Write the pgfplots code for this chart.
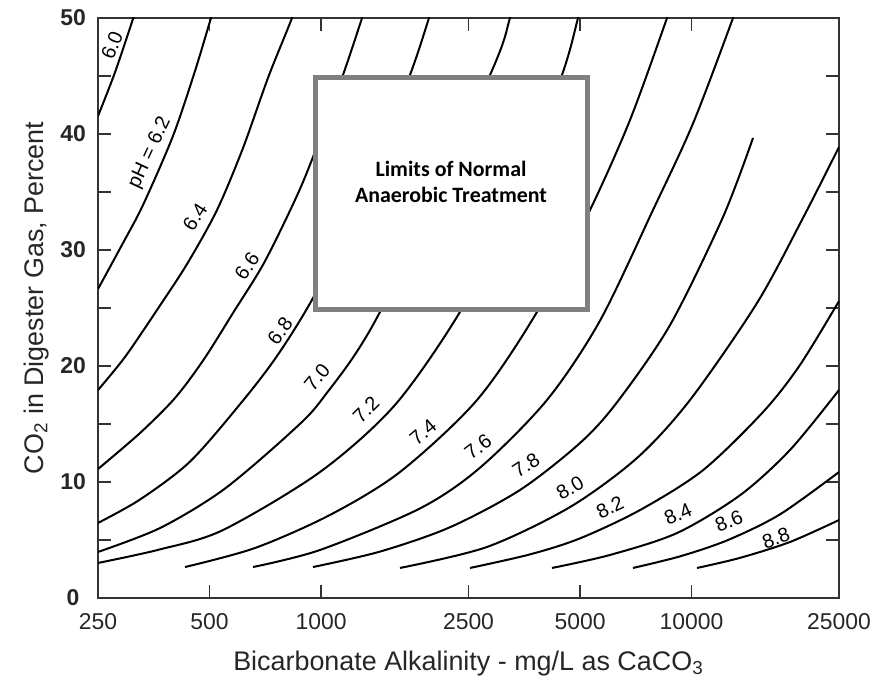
\documentclass[border=0pt]{standalone}
\usepackage{fontspec}
\setmainfont{Liberation Sans}
\newfontfamily\calibri{Carlito}
\usepackage{pgfplots}
\pgfplotsset{compat=1.18}
\newcommand\lbl{\fontsize{10}{12}\selectfont}
\begin{document}
\begin{tikzpicture}
\begin{axis}[
  name=ax,
  scale only axis, width=370.5bp, height=290bp,
  xmode=log, xmin=250, xmax=25000, ymin=0, ymax=50,
  xtick={250,500,1000,2500,5000,10000,25000},
  xticklabels={250,500,1000,2500,5000,10000,25000},
  xminorticks=false,
  ytick={0,10,20,30,40,50},
  yticklabels={0,10,20,30,40,50},
  minor ytick={5,15,25,35,45},
  tick align=inside, tick pos=both,
  major tick length=6.5bp, minor tick length=6.5bp,
  every tick/.style={black!80, line width=0.8bp},
  axis line style={black!80, line width=1bp},
  xticklabel style={font=\fontsize{11.5}{12}\selectfont, text=black!85, yshift=-4bp},
  yticklabel style={font=\bfseries\fontsize{11.5}{12}\selectfont, text=black!85, anchor=center, xshift=-12.5bp},
  cycle list={{black}},
  no markers,
  every axis plot post/.append style={black, solid, line width=1bp, smooth, mark=none},
  clip=true,
]
% pH 6.0
\addplot coordinates {(250,41.55) (277.8,45.31) (311.3,50) (324.6,51.8)};
% pH 6.2
\addplot coordinates {(250,26.64) (292,30.60) (330.7,33.88) (398.5,39.83) (456.8,45.43) (504.6,50) (533.6,52.41)};
% pH 6.4
\addplot coordinates {(250,17.93) (295.7,20.78) (360.7,24.83) (434.7,28.79) (523.8,33.45) (615.6,38.79) (720.5,44.91) (834.7,50) (877.3,52.24)};
% pH 6.6
\addplot coordinates {(250,11.12) (324.6,14.22) (403.4,17.24) (483.1,20.59) (578.5,24.57) (701.4,28.88) (850.4,34.31) (951.1,38.02) (1146,45.09) (1290,50) (1372,52.67)};
% pH 6.8
\addplot coordinates {(250,6.47) (324.6,8.49) (442.9,11.76) (608,16.81) (760.5,20.86) (951.1,25.86) (1274,33.87) (1738,45.09) (1956,50) (2094,53.0)};
% pH 7.0
\addplot coordinates {(250,3.97) (367.5,6.03) (543.7,9.31) (824.4,14.22) (1012,17.24) (1442,24.66) (2858,45.09) (3236,50) (3443,52.76)};
% pH 7.2
\addplot coordinates {(250,3.02) (367.5,4.19) (543.7,5.86) (993.4,10.86) (1583,16.64) (2371,24.66) (3236,33.16) (4470,45.09) (4938,50) (5254,53.2)};
% pH 7.4
\addplot coordinates {(429.3,2.67) (663.3,4.31) (1057,7.16) (1633,10.86) (2636,17.07) (3827,24.66) (5320,33.45) (6821,41.21) (8585,50) (9135,52.67)};
% pH 7.6
\addplot coordinates {(655.1,2.67) (993.4,4.14) (1849,7.72) (2685,11.23) (4072,17.07) (5661,23.91) (7870,33.45) (10090,40.91) (12938,50) (13768,52.6)};
% pH 7.8
\addplot coordinates {(951.1,2.67) (1442,4.00) (2228,6.10) (3443,9.31) (4999,13.36) (6292,16.87) (8747,23.53) (12159,32.85) (14651,39.66)};
% pH 8.0
\addplot coordinates {(1633,2.59) (2805,4.40) (4698,7.84) (7125,12.07) (9904,17.07) (15020,25.43) (19989,32.76) (25000,38.88)};
% pH 8.2
\addplot coordinates {(2524,2.59) (3664,3.76) (4999,5.14) (7258,7.58) (10738,11.02) (15590,16.03) (19620,20.09) (25000,25.6)};
% pH 8.4
\addplot coordinates {(4201,2.59) (6023,3.71) (9135,5.60) (13515,8.86) (18436,12.76) (25000,17.93)};
% pH 8.6
\addplot coordinates {(6950,2.59) (9308,3.59) (12542,5.0) (17325,7.21) (25000,10.86)};
% pH 8.8
\addplot coordinates {(10345,2.59) (13515,3.46) (18436,4.83) (25000,6.72)};

\node[rotate=68, font=\lbl] at (axis cs:272.7,47.67) {6.0};
\node[rotate=65, font=\lbl] at (axis cs:345.4,38.36) {pH = 6.2};
\node[rotate=57, font=\lbl] at (axis cs:456.8,32.85) {6.4};
\node[rotate=55, font=\lbl] at (axis cs:631.1,28.62) {6.6};
\node[rotate=53, font=\lbl] at (axis cs:774.8,23.02) {6.8};
\node[rotate=50, font=\lbl] at (axis cs:975.1,19.05) {7.0};
\node[rotate=45, font=\lbl] at (axis cs:1322,16.21) {7.2};
\node[rotate=40, font=\lbl] at (axis cs:1884,14.31) {7.4};
\node[rotate=37, font=\lbl] at (axis cs:2652,13.02) {7.6};
\node[rotate=33, font=\lbl] at (axis cs:3574,11.47) {7.8};
\node[rotate=30, font=\lbl] at (axis cs:4698,9.48) {8.0};
\node[rotate=26, font=\lbl] at (axis cs:6023,7.84) {8.2};
\node[rotate=24, font=\lbl] at (axis cs:9192,7.24) {8.4};
\node[rotate=22, font=\lbl] at (axis cs:12620,6.64) {8.6};
\node[rotate=20, font=\lbl] at (axis cs:16900,5.17) {8.8};

\draw[draw=black!50, fill=white, line width=2.5bp] (rel axis cs:0.2935,0.4974) rectangle (rel axis cs:0.6606,0.8974);
\node[anchor=base, font=\calibri\bfseries\fontsize{11}{13}\selectfont] at (rel axis cs:0.4764,0.7267) {Limits of Normal};
\node[anchor=base, font=\calibri\bfseries\fontsize{11}{13}\selectfont] at (rel axis cs:0.4764,0.6819) {Anaerobic Treatment};
\end{axis}
\node[anchor=base, font=\fontsize{13.5}{15}\selectfont, text=black!85] at ([shift={(185.25bp,-36bp)}]ax.south west) {Bicarbonate Alkalinity - mg/L as CaCO\textsubscript{3}};
\node[rotate=90, anchor=base, font=\fontsize{13.5}{15}\selectfont, text=black!85] at ([shift={(-27.5bp,150bp)}]ax.south west) {CO\textsubscript{2} in Digester Gas, Percent};
\pgfresetboundingbox
\path ([shift={(-49bp,-46bp)}]ax.south west) rectangle ([shift={(18bp,9bp)}]ax.north east);
\end{tikzpicture}
\end{document}
